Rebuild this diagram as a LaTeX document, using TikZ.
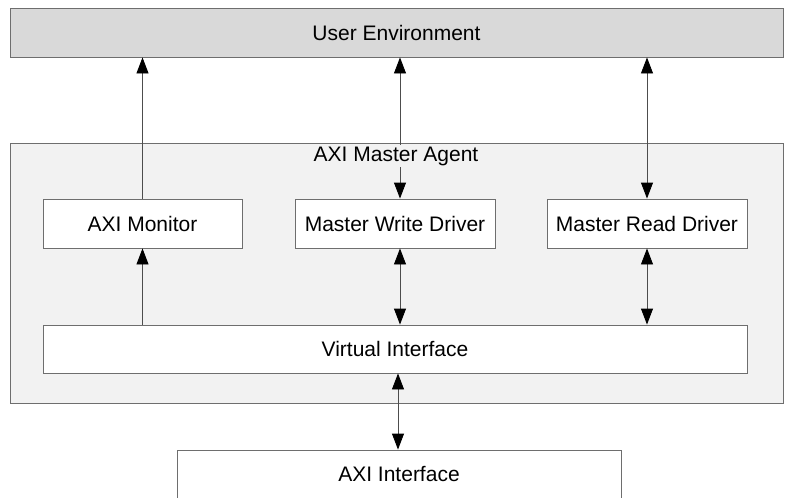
\documentclass[tikz,border=0pt]{standalone}
\usepackage{fontspec}
\setmainfont{Liberation Sans}
\usetikzlibrary{arrows.meta}
\definecolor{envgray}{HTML}{D9D9D9}
\definecolor{agentgray}{HTML}{F2F2F2}
\definecolor{edgegray}{HTML}{6E6E6E}
\definecolor{linegray}{HTML}{4D4D4D}
\begin{document}
\begin{tikzpicture}[x=1pt,y=-1pt,
    every node/.append style={font=\fontsize{21}{25}\selectfont,inner sep=0pt},
    blk/.style={draw=edgegray,line width=0.9pt,rectangle,fill=white,minimum height=49pt},
    link/.style={draw=linegray,line width=0.9pt,{Triangle[length=16pt,width=12pt,color=black]}-{Triangle[length=16pt,width=12pt,color=black]}},
    uplink/.style={draw=linegray,line width=0.9pt,-{Triangle[length=16pt,width=12pt,color=black]}}]
      \clip (0,0) rectangle (785,498);

      \node[blk,fill=envgray,minimum width=773pt] (UserEnv) at (396.5,32.5) {User Environment};
      \node[blk,fill=agentgray,minimum width=773pt,minimum height=260pt] (Agent) at (396.5,273) {};

      \node[blk,minimum width=199pt] (Monitor) at (142.5,223.5) {AXI Monitor};
      \node[blk,minimum width=200pt] (WriteDriver) at (395,223.5) {Master Write Driver};
      \node[blk,minimum width=200pt] (ReadDriver) at (647,223.5) {Master Read Driver};
      \node[blk,minimum width=704pt,minimum height=48pt] (VirtIf) at (395,349) {};
      \node at (395,349) {Virtual Interface};
      \node[blk,minimum width=444pt,minimum height=80pt] (AxiIf) at (399,490) {};
      \node (AxiIfText) at (399,474) {AXI Interface};

      \coordinate (WriteX) at (400,0);
      \coordinate (BusX) at (398,0);

      \draw [uplink] (Monitor.north)--(Monitor.north |- UserEnv.south);
      \draw [uplink] (Monitor.south |- VirtIf.north)--(Monitor.south);

      \draw [link] (WriteX |- UserEnv.south)--(WriteX |- WriteDriver.north);
      \draw [link] (WriteX |- WriteDriver.south)--(WriteX |- VirtIf.north);

      \draw [link] (ReadDriver.north |- UserEnv.south)--(ReadDriver.north);
      \draw [link] (ReadDriver.south)--(ReadDriver.south |- VirtIf.north);

      \draw [link] (BusX |- VirtIf.south)--(BusX |- AxiIf.north);

      \node[fill=agentgray,inner sep=2pt] (AgentLabel) at (396,156) {AXI Master Agent};
    \end{tikzpicture}
\end{document}
